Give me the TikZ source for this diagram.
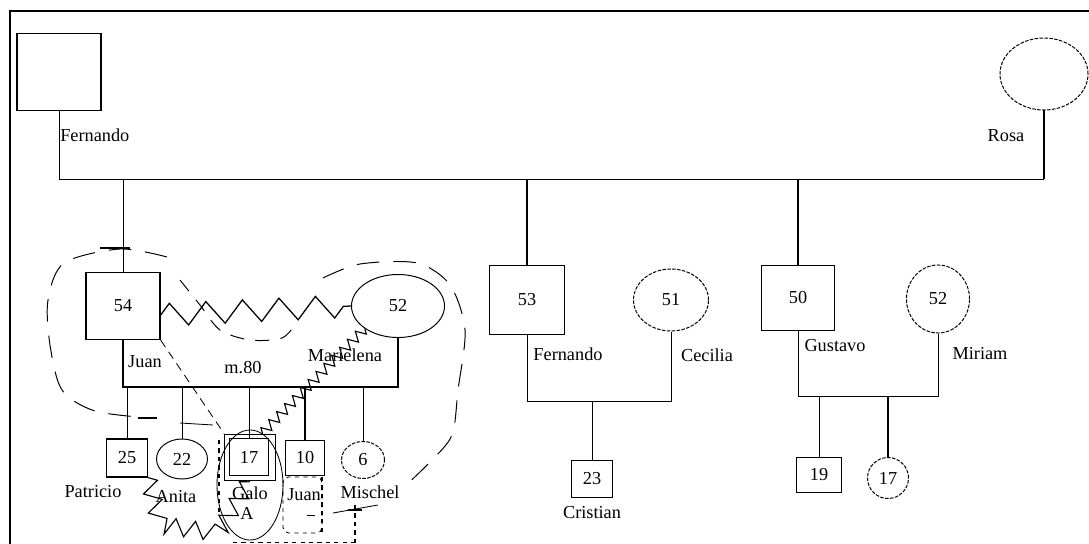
\documentclass[tikz,border=0pt]{standalone}
\usepackage{fontspec}
\setmainfont{Liberation Serif}
\usetikzlibrary{shapes.geometric,positioning,calc,decorations.pathmorphing}

\begin{document}
\begin{tikzpicture}[x=0.025cm, y=-0.025cm,
    male/.style={draw, rectangle, line width=0.8pt, inner sep=0pt, font=\fontsize{13}{15}\selectfont},
    female/.style={draw, ellipse, line width=0.7pt, inner sep=0pt, font=\fontsize{13}{15}\selectfont},
    fine/.style={dash pattern=on 2.5pt off 1pt},
    lbl/.style={inner sep=0pt, font=\fontsize{13}{15}\selectfont},
    tie/.style={line width=0.6pt},
    heavy/.style={line width=1.4pt},
    conflict/.style={decorate, decoration={zigzag, amplitude=8pt, segment length=26pt}, line width=0.9pt},
    quarrel/.style={decorate, decoration={zigzag, amplitude=3.5pt, segment length=8pt}, line width=0.8pt},
    loose/.style={dash pattern=on 16pt off 10pt, line width=0.7pt}
]
    \useasboundingbox (0,0) rectangle (1089,544);
    \draw[line width=0.8pt] (10,544) -- (10,11) -- (1089,11);

    % first generation
    \node[male, minimum width=2.1cm, minimum height=1.925cm] (fernando) at (59,72) {};
    \node[female, fine, minimum width=2.2cm, minimum height=1.8cm] (rosa) at (1044,74) {};
    \node[lbl, anchor=west] (fernandoname) at (60,135) {Fernando};
    \node[lbl] (rosaname) at (1006,136) {Rosa};
    \coordinate (sibs) at (0,179);
    \draw[tie] (fernando.south) |- (sibs -| rosa.south);
    \draw[heavy] (sibs -| rosa.south) -- (rosa.south);

    % Juan and Marielena
    \node[male, line width=1pt, minimum width=1.85cm, minimum height=1.675cm] (juan) at (123,306) {54};
    \node[female, minimum width=2.325cm, minimum height=1.575cm] (marielena) at (398,306) {52};
    \draw[tie] (sibs -| juan.north) -- (juan.north);
    \coordinate (juanbar) at (0,387);
    \draw[line width=0.9pt] (juan.south) |- (juanbar -| marielena.south) -- (marielena.south);
    \node[lbl] (juanname) at (145,362) {Juan};
    \node[lbl] (married) at (243,368) {m.80};
    \node[lbl] (marielenaname) at (345,355) {Marielena};

    \node[male, minimum width=1.025cm, minimum height=0.95cm] (patricio) at (127,458) {25};
    \node[female, minimum width=1.275cm, minimum height=1cm] (anita) at (182,459) {22};
    \node[male, line width=1.3pt, minimum width=0.975cm, minimum height=0.925cm] (galo) at (249,457) {17};
    \node[draw, rectangle, tie, minimum width=1.275cm, minimum height=1.15cm, inner sep=0pt] (galoring) at (250,457) {};
    \node[male, minimum width=0.975cm, minimum height=0.875cm] (juanjr) at (305,458) {10};
    \node[female, fine, minimum width=1.075cm, minimum height=0.925cm] (mischel) at (363,460) {6};
    \foreach \kid in {patricio, anita, galo, mischel}
        \draw[tie] (juanbar -| \kid.north) -- (\kid.north);
    \draw[heavy] (juanbar -| juanjr.north) -- (juanjr.north);
    \node[lbl] (patricioname) at (93,492) {Patricio};
    \node[lbl] (anitaname) at (176,497) {Anita};
    \node[lbl] (galoname) at (250,493) {Galo};
    \node[lbl] (galoletter) at (247,513) {A};
    \node[lbl] (juanjrname) at (304,495) {Juan};
    \node[lbl] (mischelname) at (370,492) {Mischel};

    % Fernando and Cecilia
    \node[male, line width=1.1pt, minimum width=1.875cm, minimum height=1.725cm] (fernandojr) at (527,300) {53};
    \node[female, fine, minimum width=1.875cm, minimum height=1.55cm] (cecilia) at (671,300) {51};
    \draw[heavy] (sibs -| fernandojr.north) -- (fernandojr.north);
    \coordinate (ferbar) at (0,401);
    \draw[tie] (fernandojr.south) |- (ferbar -| cecilia.south) -- (cecilia.south);
    \node[lbl] (fernandojrname) at (568,354) {Fernando};
    \node[lbl] (ceciliananame) at (707,355) {Cecilia};
    \node[male, minimum width=1.025cm, minimum height=0.925cm] (cristian) at (592,479) {23};
    \draw[tie] (ferbar -| cristian.north) -- (cristian.north);
    \node[lbl] (cristianname) at (592,513) {Cristian};

    % Gustavo and Miriam
    \node[male, minimum width=1.825cm, minimum height=1.625cm] (gustavo) at (798,298) {50};
    \node[female, fine, minimum width=1.575cm, minimum height=1.7cm] (miriam) at (938,299) {52};
    \draw[heavy] (sibs -| gustavo.north) -- (gustavo.north);
    \coordinate (gusbar) at (0,396);
    \draw[tie] (gustavo.south) |- (gusbar -| miriam.south) -- (miriam.south);
    \node[lbl] (gustavoname) at (835,346) {Gustavo};
    \node[lbl] (miriamname) at (980,354) {Miriam};
    \node[male, minimum width=1.125cm, minimum height=0.875cm] (nineteen) at (819,475) {19};
    \node[female, fine, minimum width=1.025cm, minimum height=1.025cm] (seventeen) at (888,478) {17};
    \draw[tie] (gusbar -| nineteen.north) -- (nineteen.north);
    \draw[heavy] (gusbar -| seventeen.north) -- (seventeen.north);

    % relations drawn over the first family
    \draw[conflict] ($(juan.east)+(0,9)$) -- (marielena.west);
    \draw[quarrel] (marielena.south west) -- ($(galoring.north)+(12,0)$);
    \draw[quarrel, decoration={amplitude=6pt, segment length=14pt}] (patricio.south east) -- (160,525) -- (218,533) -- (galoring.south);
    \draw[tie, dash pattern=on 6pt off 4pt] (juan.south east) -- (galoring.north west);
    \node[draw, ellipse, tie, minimum width=1.65cm, minimum height=2.75cm, inner sep=0pt] (galohalo) at (250,485) {};
    \draw[tie, dashed, rounded corners=4pt] (283,477) rectangle (322,533);
    \draw[heavy, dashed] (322,477) -- (322,533);
    \draw[heavy, dashed] (355,505) -- (355,544);
    \draw[tie, dashed] (233,542) -- (355,542);
    \draw[tie] (333,513) -- (378,505);
    \draw[heavy] (348,510) -- (362,510);
    \draw[heavy, dashed] (219,440) -- (219,515);
    \draw[tie] (180,423) -- (213,425);
    \draw[tie] (307,515) -- (315,515);

    % loose boundary round Juan's household
    \draw[heavy] (100,248) -- (130,248);
    \draw[heavy] (138,418) -- (157,418);
    \draw[loose] plot[smooth] coordinates {(167,257) (120,249) (64,263) (48,300) (50,345) (62,390) (95,411) (150,418)};
    \draw[loose] plot[smooth] coordinates {(323,278) (360,264) (417,263) (450,285) (465,330) (458,390) (452,435) (430,462) (403,488)};
    \draw[loose, dash pattern=on 10pt off 8pt] plot[smooth] coordinates {(180,280) (200,305) (220,330) (250,340) (282,338) (297,322)};
\end{tikzpicture}
\end{document}
